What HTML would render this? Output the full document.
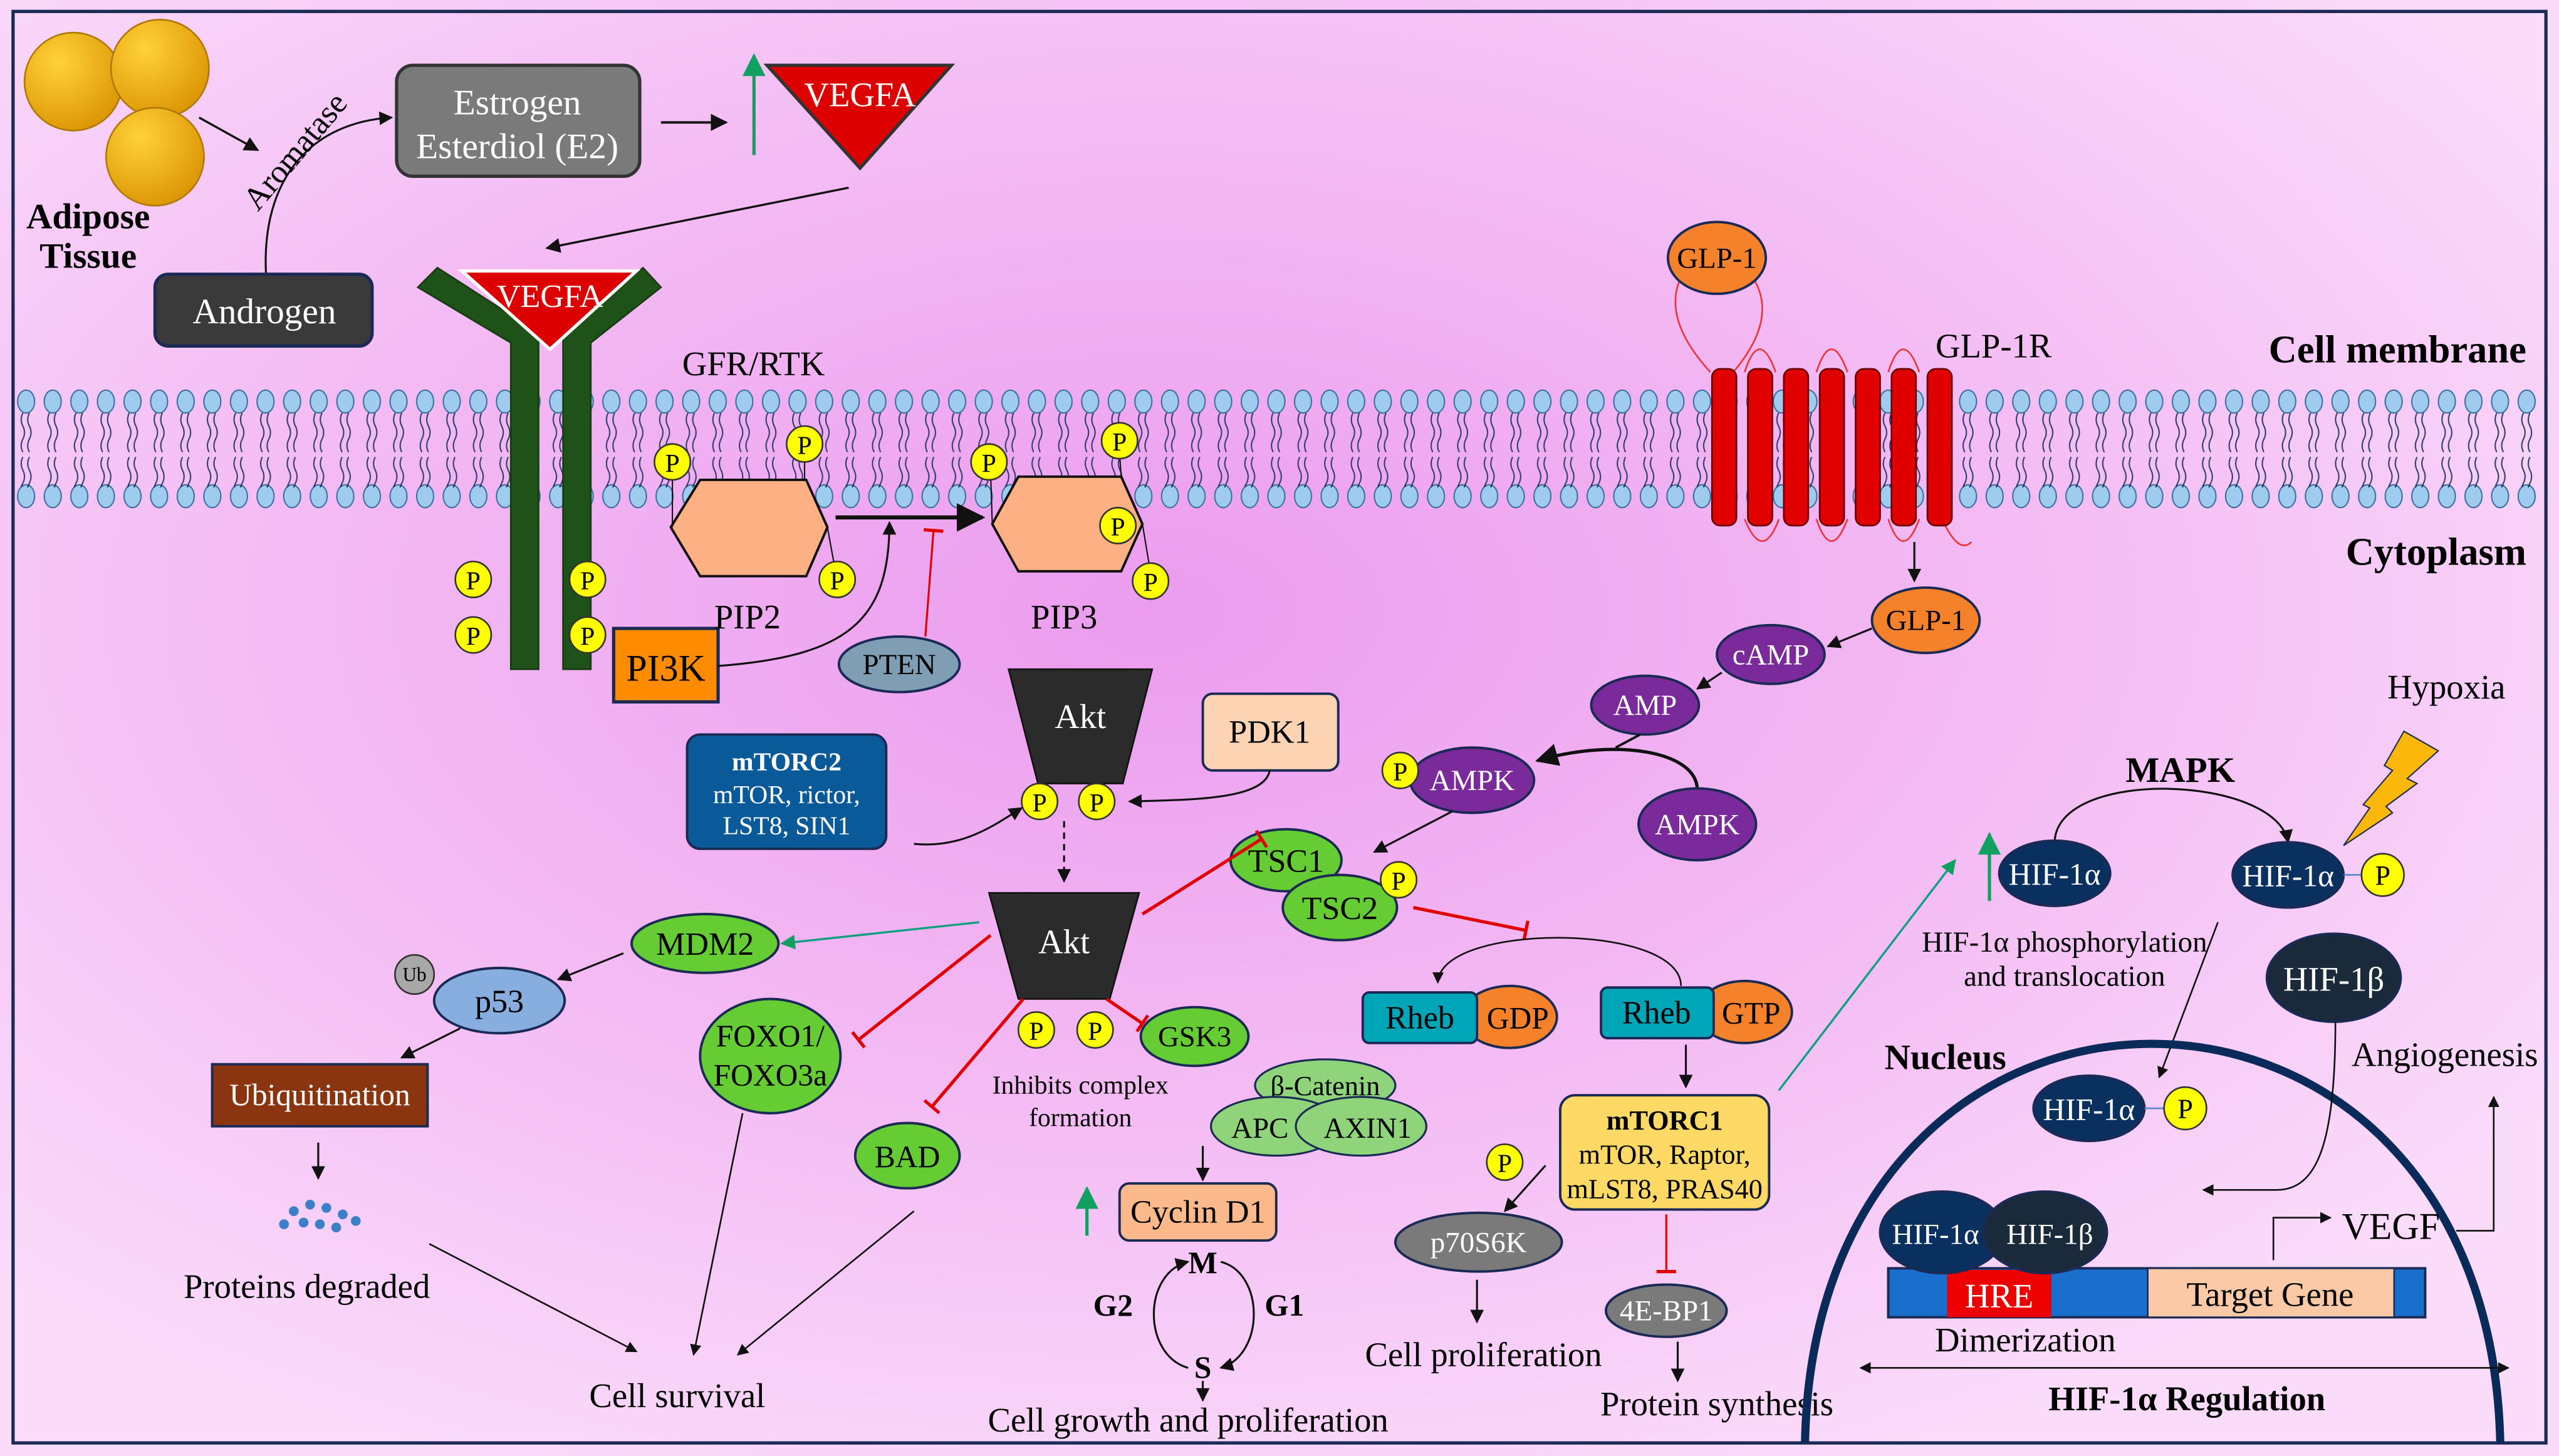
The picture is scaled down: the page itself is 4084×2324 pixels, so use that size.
<!DOCTYPE html>
<html><head><meta charset="utf-8"><style>
html,body{margin:0;padding:0;background:#f6d0f6;}
svg{display:block;font-family:"Liberation Serif","Times New Roman",serif;}
text{font-family:"Liberation Serif","Times New Roman",serif;}
</style></head><body>
<svg xmlns="http://www.w3.org/2000/svg" width="4084" height="2324" viewBox="0 0 1568 892" preserveAspectRatio="none" font-family="Liberation Serif, Times New Roman, serif">
<defs>
<radialGradient id="bg" cx="0.45" cy="0.42" r="0.65">
<stop offset="0" stop-color="#eb9cee"/><stop offset="0.55" stop-color="#f4bdf4"/><stop offset="1" stop-color="#fadcfa"/>
</radialGradient>
<radialGradient id="fat" cx="0.35" cy="0.3" r="0.8"><stop offset="0" stop-color="#ffd23a"/><stop offset="1" stop-color="#d99100"/></radialGradient>
<marker id="ah" viewBox="0 0 10 10" refX="9" refY="5" markerWidth="7" markerHeight="7" orient="auto-start-reverse"><path d="M0,0L10,5L0,10z" fill="#111"/></marker>
<marker id="ahg" viewBox="0 0 10 10" refX="9" refY="5" markerWidth="7" markerHeight="7" orient="auto"><path d="M0,0L10,5L0,10z" fill="#10a060"/></marker>
<marker id="tb" viewBox="0 0 4 12" refX="2" refY="6" markerWidth="4" markerHeight="12" markerUnits="userSpaceOnUse" orient="auto"><path d="M2,0V12" stroke="#e00000" stroke-width="2"/></marker>
<pattern id="mem" x="8" y="0" width="16.3" height="892" patternUnits="userSpaceOnUse">
<ellipse cx="8" cy="246" rx="5.2" ry="7" fill="#9ecbee" stroke="#3b70a0" stroke-width="0.8"/>
<ellipse cx="8" cy="304" rx="5.2" ry="7" fill="#9ecbee" stroke="#3b70a0" stroke-width="0.8"/>
<path d="M6,253 q-2,4 0,8 q2,4 0,8 q-2,4 0,8 M10,253 q-2,4 0,8 q2,4 0,8 q-2,4 0,8 M6,280 q-2,4 0,8 q2,4 0,8 q-2,4 0,1 M10,280 q-2,4 0,8 q2,4 0,8 q-2,4 0,1" fill="none" stroke="#2d3f6a" stroke-width="0.8"/>
</pattern>
</defs>
<rect width="1568" height="892" fill="url(#bg)"/>
<rect x="8" y="7" width="1552" height="877" fill="none" stroke="#1a2a55" stroke-width="2"/>
<rect x="9" y="236" width="1550" height="80" fill="url(#mem)"/>

<!-- Adipose -->
<circle cx="45" cy="50" r="30" fill="url(#fat)" stroke="#b07800"/>
<circle cx="98" cy="42" r="30" fill="url(#fat)" stroke="#b07800"/>
<circle cx="95" cy="96" r="30" fill="url(#fat)" stroke="#b07800"/>
<text x="54" y="140" font-size="22" font-weight="bold" text-anchor="middle">Adipose</text>
<text x="54" y="164" font-size="22" font-weight="bold" text-anchor="middle">Tissue</text>
<line x1="122" y1="72" x2="158" y2="92" stroke="#111" stroke-width="1.3" marker-end="url(#ah)"/>
<path d="M163,168 C160,110 190,75 240,72" fill="none" stroke="#111" stroke-width="1.2" marker-end="url(#ah)"/>
<text x="0" y="0" font-size="20" transform="translate(158,130) rotate(-50)">Aromatase</text>
<rect x="243" y="40" width="149" height="68" rx="10" fill="#7a7a7a" stroke="#333" stroke-width="2"/>
<text x="317" y="70" font-size="22" fill="#fff" text-anchor="middle">Estrogen</text>
<text x="317" y="97" font-size="22" fill="#fff" text-anchor="middle">Esterdiol (E2)</text>
<line x1="405" y1="75" x2="445" y2="75" stroke="#111" stroke-width="1.5" marker-end="url(#ah)"/>
<line x1="462" y1="95" x2="462" y2="34" stroke="#10a060" stroke-width="2" marker-end="url(#ahg)"/>
<polygon points="470,40 583,40 527,103" fill="#dd0000" stroke="#333" stroke-width="2"/>
<text x="527" y="65" font-size="21" fill="#fff" text-anchor="middle">VEGFA</text>
<line x1="520" y1="115" x2="335" y2="152" stroke="#111" stroke-width="1.3" marker-end="url(#ah)"/>
<rect x="95" y="168" width="133" height="44" rx="8" fill="#3a3a3a" stroke="#1a2a55" stroke-width="2"/>
<text x="162" y="198" font-size="22" fill="#fff" text-anchor="middle">Androgen</text>

<!-- Receptor -->
<polygon points="256,176 268,164 330,204 330,410 313,410 313,210" fill="#1f5219" stroke="#163a12"/>
<polygon points="345,204 394,164 405,176 362,210 362,410 345,410" fill="#1f5219" stroke="#163a12"/>
<polygon points="283,166 390,166 337,214" fill="#dd0000" stroke="#fff" stroke-width="2"/>
<text x="337" y="188" font-size="20" fill="#fff" text-anchor="middle">VEGFA</text>
<text x="418" y="230" font-size="21">GFR/RTK</text>
<g stroke="#333">
<circle cx="290" cy="355" r="11" fill="#ffff00"/><circle cx="290" cy="389" r="11" fill="#ffff00"/>
<circle cx="360" cy="355" r="11" fill="#ffff00"/><circle cx="360" cy="389" r="11" fill="#ffff00"/>
</g>
<g font-size="16" text-anchor="middle"><text x="290" y="361">P</text><text x="290" y="395">P</text><text x="360" y="361">P</text><text x="360" y="395">P</text></g>
<rect x="376" y="385" width="64" height="45" fill="#ff8c00" stroke="#1a2a55" stroke-width="2"/>
<text x="408" y="417" font-size="23" text-anchor="middle">PI3K</text>
<path d="M440,408 C520,402 545,380 545,320" fill="none" stroke="#111" stroke-width="1.2" marker-end="url(#ah)"/>
<ellipse cx="551" cy="407" rx="37" ry="17" fill="#7f9db3" stroke="#1a2a55" stroke-width="1.5"/>
<text x="551" y="413" font-size="18" text-anchor="middle">PTEN</text>
<line x1="567" y1="390" x2="572" y2="325" stroke="#e00000" stroke-width="1.2" marker-end="url(#tb)"/>

<!-- PIP2 / PIP3 -->
<polygon points="429,294 494,294 507,323 494,353 429,353 411,323" fill="#fdb083" stroke="#111" stroke-width="1.5"/>
<polygon points="624,292 687,292 700,321 687,350 624,350 608,321" fill="#fdb083" stroke="#111" stroke-width="1.5"/>
<g stroke="#111" stroke-width="0.8"><line x1="412" y1="290" x2="412" y2="323"/><line x1="493" y1="280" x2="493" y2="294"/><line x1="507" y1="323" x2="511" y2="345"/>
<line x1="607" y1="290" x2="608" y2="321"/><line x1="686" y1="278" x2="687" y2="292"/><line x1="700" y1="321" x2="704" y2="345"/></g>
<g fill="#ffff00" stroke="#333"><circle cx="412" cy="283" r="11"/><circle cx="493" cy="272" r="11"/><circle cx="513" cy="355" r="11"/>
<circle cx="606" cy="283" r="11"/><circle cx="686" cy="270" r="11"/><circle cx="685" cy="322" r="11"/><circle cx="705" cy="356" r="11"/></g>
<g font-size="16" text-anchor="middle"><text x="412" y="289">P</text><text x="493" y="278">P</text><text x="513" y="361">P</text>
<text x="606" y="289">P</text><text x="686" y="276">P</text><text x="685" y="328">P</text><text x="705" y="362">P</text></g>
<text x="458" y="385" font-size="21" text-anchor="middle">PIP2</text>
<text x="652" y="385" font-size="21" text-anchor="middle">PIP3</text>
<line x1="512" y1="317" x2="602" y2="317" stroke="#111" stroke-width="2.5" marker-end="url(#ah)"/>

<!-- GLP-1R -->
<path d="M1030,170 Q1018,195 1048,228 M1074,170 Q1090,195 1062,228" fill="none" stroke="#e33" stroke-width="1"/>
<ellipse cx="1052" cy="158" rx="30" ry="22" fill="#f5822a" stroke="#1a2a55" stroke-width="1.5"/>
<text x="1052" y="164" font-size="18" text-anchor="middle">GLP-1</text>
<g fill="none" stroke="#e33" stroke-width="1">
<path d="M1069,228 Q1078,200 1088,228 M1113,228 Q1122,200 1132,228 M1157,228 Q1166,200 1176,228"/>
<path d="M1069,318 Q1080,345 1090,318 M1113,318 Q1122,345 1132,318 M1157,318 Q1166,345 1176,318 M1190,318 Q1200,340 1208,332"/>
</g>
<g fill="#e00000" stroke="#600" stroke-width="1">
<rect x="1049" y="226" width="15" height="96" rx="5"/><rect x="1071" y="226" width="15" height="96" rx="5"/><rect x="1093" y="226" width="15" height="96" rx="5"/><rect x="1115" y="226" width="15" height="96" rx="5"/><rect x="1137" y="226" width="15" height="96" rx="5"/><rect x="1159" y="226" width="15" height="96" rx="5"/><rect x="1181" y="226" width="15" height="96" rx="5"/>
</g>
<text x="1186" y="219" font-size="21">GLP-1R</text>
<text x="1548" y="222" font-size="24" font-weight="bold" text-anchor="end">Cell membrane</text>
<text x="1548" y="346" font-size="24" font-weight="bold" text-anchor="end">Cytoplasm</text>
<line x1="1173" y1="332" x2="1173" y2="356" stroke="#111" stroke-width="1.2" marker-end="url(#ah)"/>
<ellipse cx="1180" cy="380" rx="33" ry="20" fill="#f5822a" stroke="#1a2a55" stroke-width="1.5"/>
<text x="1180" y="386" font-size="18" text-anchor="middle">GLP-1</text>
<line x1="1147" y1="385" x2="1120" y2="396" stroke="#111" stroke-width="1.2" marker-end="url(#ah)"/>
<ellipse cx="1085" cy="401" rx="33" ry="18" fill="#7a2a9a" stroke="#1a2a55" stroke-width="1.5"/>
<text x="1085" y="407" font-size="18" fill="#fff" text-anchor="middle">cAMP</text>
<line x1="1055" y1="412" x2="1040" y2="422" stroke="#111" stroke-width="1.2" marker-end="url(#ah)"/>
<ellipse cx="1008" cy="432" rx="33" ry="18" fill="#7a2a9a" stroke="#1a2a55" stroke-width="1.5"/>
<text x="1008" y="438" font-size="18" fill="#fff" text-anchor="middle">AMP</text>
<path d="M1040,484 C1040,460 990,452 942,466" fill="none" stroke="#111" stroke-width="2" marker-end="url(#ah)"/>
<line x1="1005" y1="450" x2="990" y2="458" stroke="#111" stroke-width="1.5"/>
<ellipse cx="902" cy="478" rx="38" ry="20" fill="#7a2a9a" stroke="#1a2a55" stroke-width="1.5"/>
<text x="902" y="484" font-size="18" fill="#fff" text-anchor="middle">AMPK</text>
<ellipse cx="1040" cy="505" rx="36" ry="22" fill="#7a2a9a" stroke="#1a2a55" stroke-width="1.5"/>
<text x="1040" y="511" font-size="18" fill="#fff" text-anchor="middle">AMPK</text>
<circle cx="858" cy="472" r="11" fill="#ffff00" stroke="#333"/><text x="858" y="478" font-size="16" text-anchor="middle">P</text>
<line x1="890" y1="497" x2="842" y2="522" stroke="#111" stroke-width="1.2" marker-end="url(#ah)"/>

<!-- TSC -->
<ellipse cx="788" cy="527" rx="34" ry="19" fill="#66cc33" stroke="#1a2a55" stroke-width="1.5"/>
<text x="788" y="534" font-size="20" text-anchor="middle">TSC1</text>
<ellipse cx="821" cy="556" rx="35" ry="20" fill="#66cc33" stroke="#1a2a55" stroke-width="1.5"/>
<text x="821" y="563" font-size="20" text-anchor="middle">TSC2</text>
<circle cx="857" cy="539" r="11" fill="#ffff00" stroke="#333"/><text x="857" y="545" font-size="16" text-anchor="middle">P</text>

<!-- Akt -->
<polygon points="618,410 706,410 688,480 636,480" fill="#2b2b2b" stroke="#111"/>
<text x="662" y="446" font-size="21" fill="#fff" text-anchor="middle">Akt</text>
<circle cx="637" cy="491" r="11" fill="#ffff00" stroke="#333"/><text x="637" y="497" font-size="16" text-anchor="middle">P</text>
<circle cx="672" cy="491" r="11" fill="#ffff00" stroke="#333"/><text x="672" y="497" font-size="16" text-anchor="middle">P</text>
<rect x="737" y="425" width="83" height="47" rx="6" fill="#fcd4b4" stroke="#1a2a55" stroke-width="1.5"/>
<text x="778" y="455" font-size="20" text-anchor="middle">PDK1</text>
<path d="M778,472 C775,490 730,490 692,491" fill="none" stroke="#111" stroke-width="1.2" marker-end="url(#ah)"/>
<rect x="421" y="450" width="122" height="70" rx="8" fill="#0a5a9a" stroke="#1a2a55" stroke-width="1.5"/>
<text x="482" y="472" font-size="16" font-weight="bold" fill="#fff" text-anchor="middle">mTORC2</text>
<text x="482" y="492" font-size="16" fill="#fff" text-anchor="middle">mTOR, rictor,</text>
<text x="482" y="511" font-size="16" fill="#fff" text-anchor="middle">LST8, SIN1</text>
<path d="M560,517 C590,520 610,505 626,495" fill="none" stroke="#111" stroke-width="1.2" marker-end="url(#ah)"/>
<line x1="652" y1="503" x2="652" y2="540" stroke="#111" stroke-width="1.2" stroke-dasharray="4,3" marker-end="url(#ah)"/>
<polygon points="606,547 698,547 680,612 624,612" fill="#2b2b2b" stroke="#111"/>
<text x="652" y="584" font-size="21" fill="#fff" text-anchor="middle">Akt</text>
<circle cx="635" cy="631" r="11" fill="#ffff00" stroke="#333"/><text x="635" y="637" font-size="16" text-anchor="middle">P</text>
<circle cx="671" cy="631" r="11" fill="#ffff00" stroke="#333"/><text x="671" y="637" font-size="16" text-anchor="middle">P</text>
<text x="662" y="670" font-size="16" text-anchor="middle">Inhibits complex</text>
<text x="662" y="690" font-size="16" text-anchor="middle">formation</text>
<g stroke="#e00000" stroke-width="2" fill="none">
<line x1="700" y1="560" x2="773" y2="514" marker-end="url(#tb)"/>
<line x1="607" y1="573" x2="526" y2="637" marker-end="url(#tb)"/>
<line x1="627" y1="612" x2="571" y2="678" marker-end="url(#tb)"/>
<line x1="678" y1="612" x2="700" y2="627" marker-end="url(#tb)"/>
<line x1="866" y1="556" x2="935" y2="570" marker-end="url(#tb)"/>
</g>
<line x1="600" y1="565" x2="479" y2="578" stroke="#10a080" stroke-width="1.3" marker-end="url(#ahg)"/>
<ellipse cx="432" cy="578" rx="45" ry="18" fill="#66cc33" stroke="#1a2a55" stroke-width="1.5"/>
<text x="432" y="585" font-size="20" text-anchor="middle">MDM2</text>
<line x1="382" y1="584" x2="342" y2="600" stroke="#111" stroke-width="1.2" marker-end="url(#ah)"/>
<ellipse cx="306" cy="613" rx="40" ry="20" fill="#88aee0" stroke="#1a2a55" stroke-width="1.5"/>
<text x="306" y="620" font-size="20" text-anchor="middle">p53</text>
<circle cx="254" cy="597" r="12" fill="#a8a8a8" stroke="#333"/><text x="254" y="601" font-size="12" text-anchor="middle">Ub</text>
<line x1="282" y1="630" x2="246" y2="648" stroke="#111" stroke-width="1.2" marker-end="url(#ah)"/>
<rect x="130" y="652" width="132" height="38" fill="#8b3410" stroke="#1a2a55" stroke-width="1.5"/>
<text x="196" y="677" font-size="19" fill="#fff" text-anchor="middle">Ubiquitination</text>
<line x1="195" y1="700" x2="195" y2="722" stroke="#111" stroke-width="1.2" marker-end="url(#ah)"/>
<g fill="#3a7fc8"><circle cx="180" cy="742" r="3"/><circle cx="190" cy="738" r="3"/><circle cx="200" cy="740" r="3"/><circle cx="210" cy="744" r="3"/><circle cx="186" cy="749" r="3"/><circle cx="196" cy="750" r="3"/><circle cx="206" cy="752" r="3"/><circle cx="174" cy="750" r="3"/><circle cx="218" cy="748" r="3"/></g>
<text x="188" y="795" font-size="21" text-anchor="middle">Proteins degraded</text>
<line x1="263" y1="762" x2="390" y2="828" stroke="#111" stroke-width="1" marker-end="url(#ah)"/>
<line x1="455" y1="682" x2="425" y2="830" stroke="#111" stroke-width="1" marker-end="url(#ah)"/>
<line x1="560" y1="742" x2="452" y2="830" stroke="#111" stroke-width="1" marker-end="url(#ah)"/>
<text x="415" y="862" font-size="21" text-anchor="middle">Cell survival</text>
<ellipse cx="472" cy="647" rx="43" ry="35" fill="#66cc33" stroke="#1a2a55" stroke-width="1.5"/>
<text x="472" y="641" font-size="19" text-anchor="middle">FOXO1/</text>
<text x="472" y="665" font-size="19" text-anchor="middle">FOXO3a</text>
<ellipse cx="556" cy="708" rx="32" ry="20" fill="#66cc33" stroke="#1a2a55" stroke-width="1.5"/>
<text x="556" y="715" font-size="19" text-anchor="middle">BAD</text>
<ellipse cx="732" cy="635" rx="33" ry="18" fill="#66cc33" stroke="#1a2a55" stroke-width="1.5"/>
<text x="732" y="641" font-size="18" text-anchor="middle">GSK3</text>
<ellipse cx="812" cy="665" rx="43" ry="16" fill="#8fd47a" stroke="#1a2a55" stroke-width="1.2"/>
<text x="812" y="671" font-size="17" text-anchor="middle">β-Catenin</text>
<ellipse cx="782" cy="690" rx="40" ry="18" fill="#8fd47a" stroke="#1a2a55" stroke-width="1.2"/>
<ellipse cx="834" cy="690" rx="40" ry="18" fill="#8fd47a" stroke="#1a2a55" stroke-width="1.2"/>
<text x="772" y="697" font-size="18" text-anchor="middle">APC</text>
<text x="838" y="697" font-size="18" text-anchor="middle">AXIN1</text>
<line x1="737" y1="702" x2="737" y2="723" stroke="#111" stroke-width="1.2" marker-end="url(#ah)"/>
<rect x="686" y="725" width="96" height="35" rx="6" fill="#fcb98c" stroke="#1a2a55" stroke-width="1.5"/>
<text x="734" y="749" font-size="20" text-anchor="middle">Cyclin D1</text>
<line x1="666" y1="757" x2="666" y2="728" stroke="#10a060" stroke-width="2" marker-end="url(#ahg)"/>
<path d="M728,773 C700,780 700,830 728,838" fill="none" stroke="#111" stroke-width="1.2" marker-start="url(#ah)"/>
<path d="M748,838 C775,830 775,780 748,773" fill="none" stroke="#111" stroke-width="1.2" marker-start="url(#ah)"/>
<text x="737" y="780" font-size="19" font-weight="bold" text-anchor="middle">M</text>
<text x="682" y="806" font-size="19" font-weight="bold" text-anchor="middle">G2</text>
<text x="787" y="806" font-size="19" font-weight="bold" text-anchor="middle">G1</text>
<text x="737" y="844" font-size="19" font-weight="bold" text-anchor="middle">S</text>
<line x1="737" y1="846" x2="737" y2="858" stroke="#111" stroke-width="1.2" marker-end="url(#ah)"/>
<text x="728" y="877" font-size="21" text-anchor="middle">Cell growth and proliferation</text>

<!-- Rheb -->
<ellipse cx="925" cy="623" rx="29" ry="19" fill="#f5822a" stroke="#1a2a55" stroke-width="1.5"/>
<rect x="835" y="608" width="70" height="31" rx="4" fill="#00a5b8" stroke="#1a2a55" stroke-width="1.5"/>
<text x="870" y="630" font-size="20" text-anchor="middle">Rheb</text>
<text x="930" y="630" font-size="19" text-anchor="middle">GDP</text>
<ellipse cx="1069" cy="620" rx="29" ry="19" fill="#f5822a" stroke="#1a2a55" stroke-width="1.5"/>
<rect x="981" y="605" width="69" height="31" rx="4" fill="#00a5b8" stroke="#1a2a55" stroke-width="1.5"/>
<text x="1015" y="627" font-size="20" text-anchor="middle">Rheb</text>
<text x="1073" y="627" font-size="19" text-anchor="middle">GTP</text>
<path d="M1030,604 C1030,565 882,565 881,602" fill="none" stroke="#111" stroke-width="1" marker-end="url(#ah)"/>
<line x1="1033" y1="640" x2="1033" y2="666" stroke="#111" stroke-width="1.2" marker-end="url(#ah)"/>
<rect x="956" y="671" width="128" height="70" rx="9" fill="#ffd966" stroke="#1a2a55" stroke-width="1.5"/>
<text x="1020" y="692" font-size="17" font-weight="bold" text-anchor="middle">mTORC1</text>
<text x="1020" y="713" font-size="17" text-anchor="middle">mTOR, Raptor,</text>
<text x="1020" y="734" font-size="17" text-anchor="middle">mLST8, PRAS40</text>
<line x1="1090" y1="668" x2="1198" y2="527" stroke="#10a080" stroke-width="1.3" marker-end="url(#ahg)"/>
<line x1="1021" y1="744" x2="1021" y2="779" stroke="#e00000" stroke-width="1.2" marker-end="url(#tb)"/>
<ellipse cx="1021" cy="803" rx="37" ry="16" fill="#7a7a7a" stroke="#1a2a55" stroke-width="1.5"/>
<text x="1021" y="809" font-size="18" fill="#fff" text-anchor="middle">4E-BP1</text>
<line x1="1028" y1="822" x2="1028" y2="846" stroke="#111" stroke-width="1.2" marker-end="url(#ah)"/>
<text x="1052" y="867" font-size="21" text-anchor="middle">Protein synthesis</text>
<circle cx="922" cy="712" r="11" fill="#ffff00" stroke="#333"/><text x="922" y="718" font-size="16" text-anchor="middle">P</text>
<line x1="947" y1="714" x2="922" y2="742" stroke="#111" stroke-width="1.2" marker-end="url(#ah)"/>
<ellipse cx="906" cy="761" rx="51" ry="18" fill="#7a7a7a" stroke="#1a2a55" stroke-width="1.5"/>
<text x="906" y="767" font-size="18" fill="#fff" text-anchor="middle">p70S6K</text>
<line x1="905" y1="784" x2="905" y2="810" stroke="#111" stroke-width="1.2" marker-end="url(#ah)"/>
<text x="909" y="837" font-size="21" text-anchor="middle">Cell proliferation</text>

<!-- HIF -->
<line x1="1219" y1="552" x2="1219" y2="511" stroke="#10a060" stroke-width="2" marker-end="url(#ahg)"/>
<path d="M1259,515 C1262,470 1395,475 1402,516" fill="none" stroke="#111" stroke-width="1.2" marker-end="url(#ah)"/>
<text x="1336" y="479" font-size="22" font-weight="bold" text-anchor="middle">MAPK</text>
<ellipse cx="1259" cy="535" rx="34" ry="20" fill="#0a3060" stroke="#1a2a55" stroke-width="1.5"/>
<text x="1259" y="542" font-size="19" fill="#fff" text-anchor="middle">HIF-1α</text>
<ellipse cx="1402" cy="536" rx="34" ry="20" fill="#0a3060" stroke="#1a2a55" stroke-width="1.5"/>
<text x="1402" y="543" font-size="19" fill="#fff" text-anchor="middle">HIF-1α</text>
<line x1="1436" y1="536" x2="1447" y2="536" stroke="#58c"/>
<circle cx="1460" cy="536" r="13" fill="#ffff00" stroke="#333"/><text x="1460" y="542" font-size="17" text-anchor="middle">P</text>
<polygon points="1473,448 1494,460 1475,477 1481,480 1462,494 1466,498 1436,518 1452,495 1448,493 1466,472 1461,469" fill="#fbb80a" stroke="#1a2a55" stroke-width="0.8"/>
<text x="1499" y="428" font-size="21" text-anchor="middle">Hypoxia</text>
<text x="1265" y="583" font-size="18" text-anchor="middle">HIF-1α phosphorylation</text>
<text x="1265" y="604" font-size="18" text-anchor="middle">and translocation</text>
<line x1="1359" y1="565" x2="1323" y2="660" stroke="#111" stroke-width="1" marker-end="url(#ah)"/>
<ellipse cx="1430" cy="599" rx="41" ry="27" fill="#1a2a3a" stroke="#1a2a55" stroke-width="1.5"/>
<text x="1430" y="607" font-size="21" fill="#fff" text-anchor="middle">HIF-1β</text>
<path d="M1106,884 C1112,558 1525,558 1532,884" fill="none" stroke="#0a2a5a" stroke-width="5"/>
<text x="1192" y="655" font-size="22" font-weight="bold" text-anchor="middle">Nucleus</text>
<ellipse cx="1280" cy="679" rx="34" ry="20" fill="#0a3060" stroke="#1a2a55" stroke-width="1.5"/>
<text x="1280" y="686" font-size="19" fill="#fff" text-anchor="middle">HIF-1α</text>
<line x1="1314" y1="679" x2="1327" y2="679" stroke="#58c"/>
<circle cx="1339" cy="679" r="13" fill="#ffff00" stroke="#333"/><text x="1339" y="685" font-size="17" text-anchor="middle">P</text>
<path d="M1431,626 C1431,700 1420,729 1395,729 L1350,729" fill="none" stroke="#111" stroke-width="1" marker-end="url(#ah)"/>
<text x="1498" y="653" font-size="21" text-anchor="middle">Angiogenesis</text>
<path d="M1505,754 L1528,754 L1528,672" fill="none" stroke="#111" stroke-width="1" marker-end="url(#ah)"/>
<rect x="1157" y="777" width="329" height="30" fill="#1a6ecc" stroke="#1a2a55" stroke-width="1.5"/>
<rect x="1193" y="778" width="64" height="29" fill="#ee0000"/>
<text x="1225" y="801" font-size="21" fill="#fff" text-anchor="middle">HRE</text>
<rect x="1316" y="777" width="151" height="30" fill="#fcc9a6" stroke="#1a2a55"/>
<text x="1391" y="800" font-size="21" text-anchor="middle">Target  Gene</text>
<ellipse cx="1190" cy="755" rx="38" ry="25" fill="#0a3060" stroke="#1a2a55" stroke-width="1.5"/>
<ellipse cx="1253" cy="755" rx="38" ry="25" fill="#1a2a3a" stroke="#1a2a55" stroke-width="1.5"/>
<text x="1186" y="762" font-size="18" fill="#fff" text-anchor="middle">HIF-1α</text>
<text x="1256" y="762" font-size="18" fill="#fff" text-anchor="middle">HIF-1β</text>
<path d="M1393,772 L1393,746 L1428,746" fill="none" stroke="#111" stroke-width="1" marker-end="url(#ah)"/>
<text x="1465" y="759" font-size="23" text-anchor="middle">VEGF</text>
<text x="1241" y="828" font-size="21" text-anchor="middle">Dimerization</text>
<line x1="1140" y1="838" x2="1537" y2="838" stroke="#111" stroke-width="1" marker-start="url(#ah)" marker-end="url(#ah)"/>
<text x="1340" y="864" font-size="21" font-weight="bold" text-anchor="middle">HIF-1α Regulation</text>
</svg>
</body></html>
